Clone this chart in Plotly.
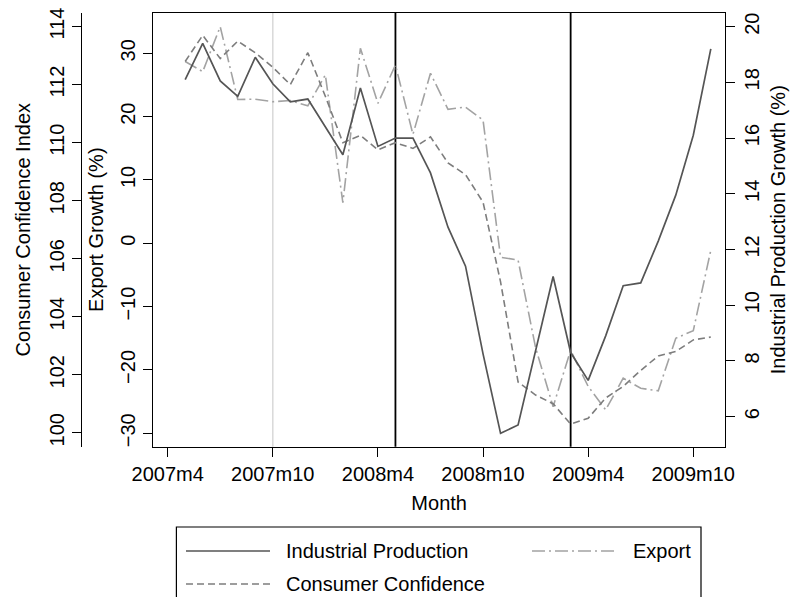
import plotly.graph_objects as go

# ---------------- data ----------------
months = ["2007m5", "2007m6", "2007m7", "2007m8", "2007m9", "2007m10", "2007m11", "2007m12",
          "2008m1", "2008m2", "2008m3", "2008m4", "2008m5", "2008m6", "2008m7", "2008m8",
          "2008m9", "2008m10", "2008m11", "2008m12", "2009m1", "2009m2", "2009m3", "2009m4",
          "2009m5", "2009m6", "2009m7", "2009m8", "2009m9", "2009m10", "2009m11"]

industrial_production = [18.1, 19.4, 18.05, 17.5, 18.9, 17.95, 17.3, 17.4,
                         None, 15.4, 17.8, 15.7, 16.0, 16.0, 14.75, 12.8,
                         11.4, 8.25, 5.4, 5.7, None, 11.03, 8.3, 7.3,
                         8.9, 10.7, 10.8, 12.3, 13.95, 16.1, 19.2]

consumer_confidence = [112.8, 113.7, 112.9, 113.5, 113.1, 112.6, 112.0, 113.1,
                       111.6, 110.0, 110.25, 109.75, 110.0, 109.8, 110.2, 109.3,
                       108.9, 107.95, 105.2, 101.75, 101.3, 101.0, 100.3, 100.5,
                       101.2, 101.6, 102.15, 102.65, 102.8, 103.2, 103.3]

export_growth = [28.7, 27.1, 34.2, 22.7, 22.75, 22.35, 22.55, 21.7,
                 26.6, 6.4, 30.8, 22.1, 28.15, 17.2, 26.85, 21.15,
                 21.5, 19.45, -2.2, -2.65, -16.5, -25.8, -16.9, -22.6,
                 -26.3, -21.3, -22.9, -23.3, -15.0, -13.8, -1.1]

tick_months = ["2007m4", "2007m10", "2008m4", "2008m10", "2009m4", "2009m10"]
export_ticks = [-30, -20, -10, 0, 10, 20, 30]
cci_ticks = [100, 102, 104, 106, 108, 110, 112, 114]
ip_ticks = [6, 8, 10, 12, 14, 16, 18, 20]

event_months = ["2007m10", "2008m5", "2009m3"]
event_colors = ["#d9d9d9", "#000000", "#000000"]


def tm(label):
    """Stata-style monthly code for a 'YYYYmM' label."""
    y, m = label.split("m")
    return (int(y) - 1960) * 12 + int(m) - 1


x = [tm(m) for m in months]

# ---------------- layout geometry (pixels) ----------------
W, H = 794, 597
PL, PR, PT, PB = 153.3, 725.0, 12.7, 446.7


def px(v):
    return v / W


def py(v):
    return 1 - v / H


FONT = "Liberation Sans, Arial, Helvetica, sans-serif"
FS = 20

IP_COLOR = "#555555"
CCI_COLOR = "#7d7d7d"
EXP_COLOR = "#a3a3a3"
CCI_DASH = "7px,4px"
EXP_DASH = "13px,4px,2px,4px"

fig = go.Figure()

fig.add_trace(go.Scatter(x=x, y=industrial_production, mode="lines", name="Industrial Production",
                         yaxis="y3", connectgaps=True, showlegend=False,
                         line=dict(color=IP_COLOR, width=1.7)))
fig.add_trace(go.Scatter(x=x, y=consumer_confidence, mode="lines", name="Consumer Confidence",
                         yaxis="y2", connectgaps=True, showlegend=False,
                         line=dict(color=CCI_COLOR, width=1.6, dash=CCI_DASH)))
fig.add_trace(go.Scatter(x=x, y=export_growth, mode="lines", name="Export",
                         yaxis="y", connectgaps=True, showlegend=False,
                         line=dict(color=EXP_COLOR, width=1.6, dash=EXP_DASH)))

# event lines
for m, c in zip(event_months, event_colors):
    fig.add_shape(type="line", xref="x", yref="paper", x0=tm(m), x1=tm(m),
                  y0=py(PB), y1=py(PT), layer="below",
                  line=dict(color=c, width=1.8 if c == "#000000" else 1.5))

axis_common = dict(ticks="outside", ticklen=9, tickwidth=1.2, tickcolor="black",
                   showline=True, linecolor="black", linewidth=1.3,
                   showgrid=False, zeroline=False, automargin=False,
                   tickfont=dict(family=FONT, size=FS, color="black"))

fig.update_layout(
    template="none",
    width=W, height=H,
    margin=dict(l=0, r=0, t=0, b=0),
    paper_bgcolor="white", plot_bgcolor="white",
    font=dict(family=FONT, size=FS, color="black"),
    showlegend=False,
    xaxis=dict(domain=[px(PL), px(PR)], range=[tm("2007m4") - 0.82, tm("2009m10") + 1.81],
               tickvals=[tm(t) for t in tick_months], ticktext=tick_months,
               mirror=True, title=dict(text="Month", font=dict(family=FONT, size=FS), standoff=12),
               **axis_common),
    yaxis=dict(domain=[py(PB), py(PT)], range=[-32.12, 36.41], tickvals=export_ticks,
               tickangle=-90, mirror=True,
               title=dict(text="Export Growth (%)", font=dict(family=FONT, size=FS), standoff=8),
               **axis_common),
    yaxis2=dict(overlaying="y", anchor="free", position=px(81), side="left",
                range=[99.52, 114.48], tickvals=cci_ticks, tickangle=-90,
                title=dict(text="Consumer Confidence Index", font=dict(family=FONT, size=FS), standoff=8),
                **axis_common),
    yaxis3=dict(overlaying="y", anchor="x", side="right",
                range=[4.92, 20.50], tickvals=ip_ticks, tickangle=-90,
                title=dict(text="Industrial Production Growth (%)", font=dict(family=FONT, size=FS), standoff=8),
                **axis_common),
)

# ---------------- legend (drawn box, samples and labels) ----------------
LX0, LX1, LY0, LY1 = 176.4, 701.0, 527.0, 603.0
fig.add_shape(type="rect", xref="paper", yref="paper", x0=px(LX0), x1=px(LX1), y0=py(LY1), y1=py(LY0),
              line=dict(color="black", width=1.2), fillcolor="rgba(0,0,0,0)")

legend_items = [
    ("Industrial Production", IP_COLOR, "solid", 1.7, 186, 270, 284, 551),
    ("Export", EXP_COLOR, EXP_DASH, 1.6, 532, 616, 631, 551),
    ("Consumer Confidence", CCI_COLOR, CCI_DASH, 1.6, 186, 270, 284, 584),
]
for name, col, dash, w, sx0, sx1, tx, ty in legend_items:
    fig.add_shape(type="line", xref="paper", yref="paper", x0=px(sx0), x1=px(sx1), y0=py(ty), y1=py(ty),
                  line=dict(color=col, width=w, dash=dash))
    fig.add_annotation(text=name, xref="paper", yref="paper", x=px(tx), y=py(ty),
                       xanchor="left", yanchor="middle", showarrow=False,
                       font=dict(family=FONT, size=FS, color="black"))

fig.write_html("out.html")
